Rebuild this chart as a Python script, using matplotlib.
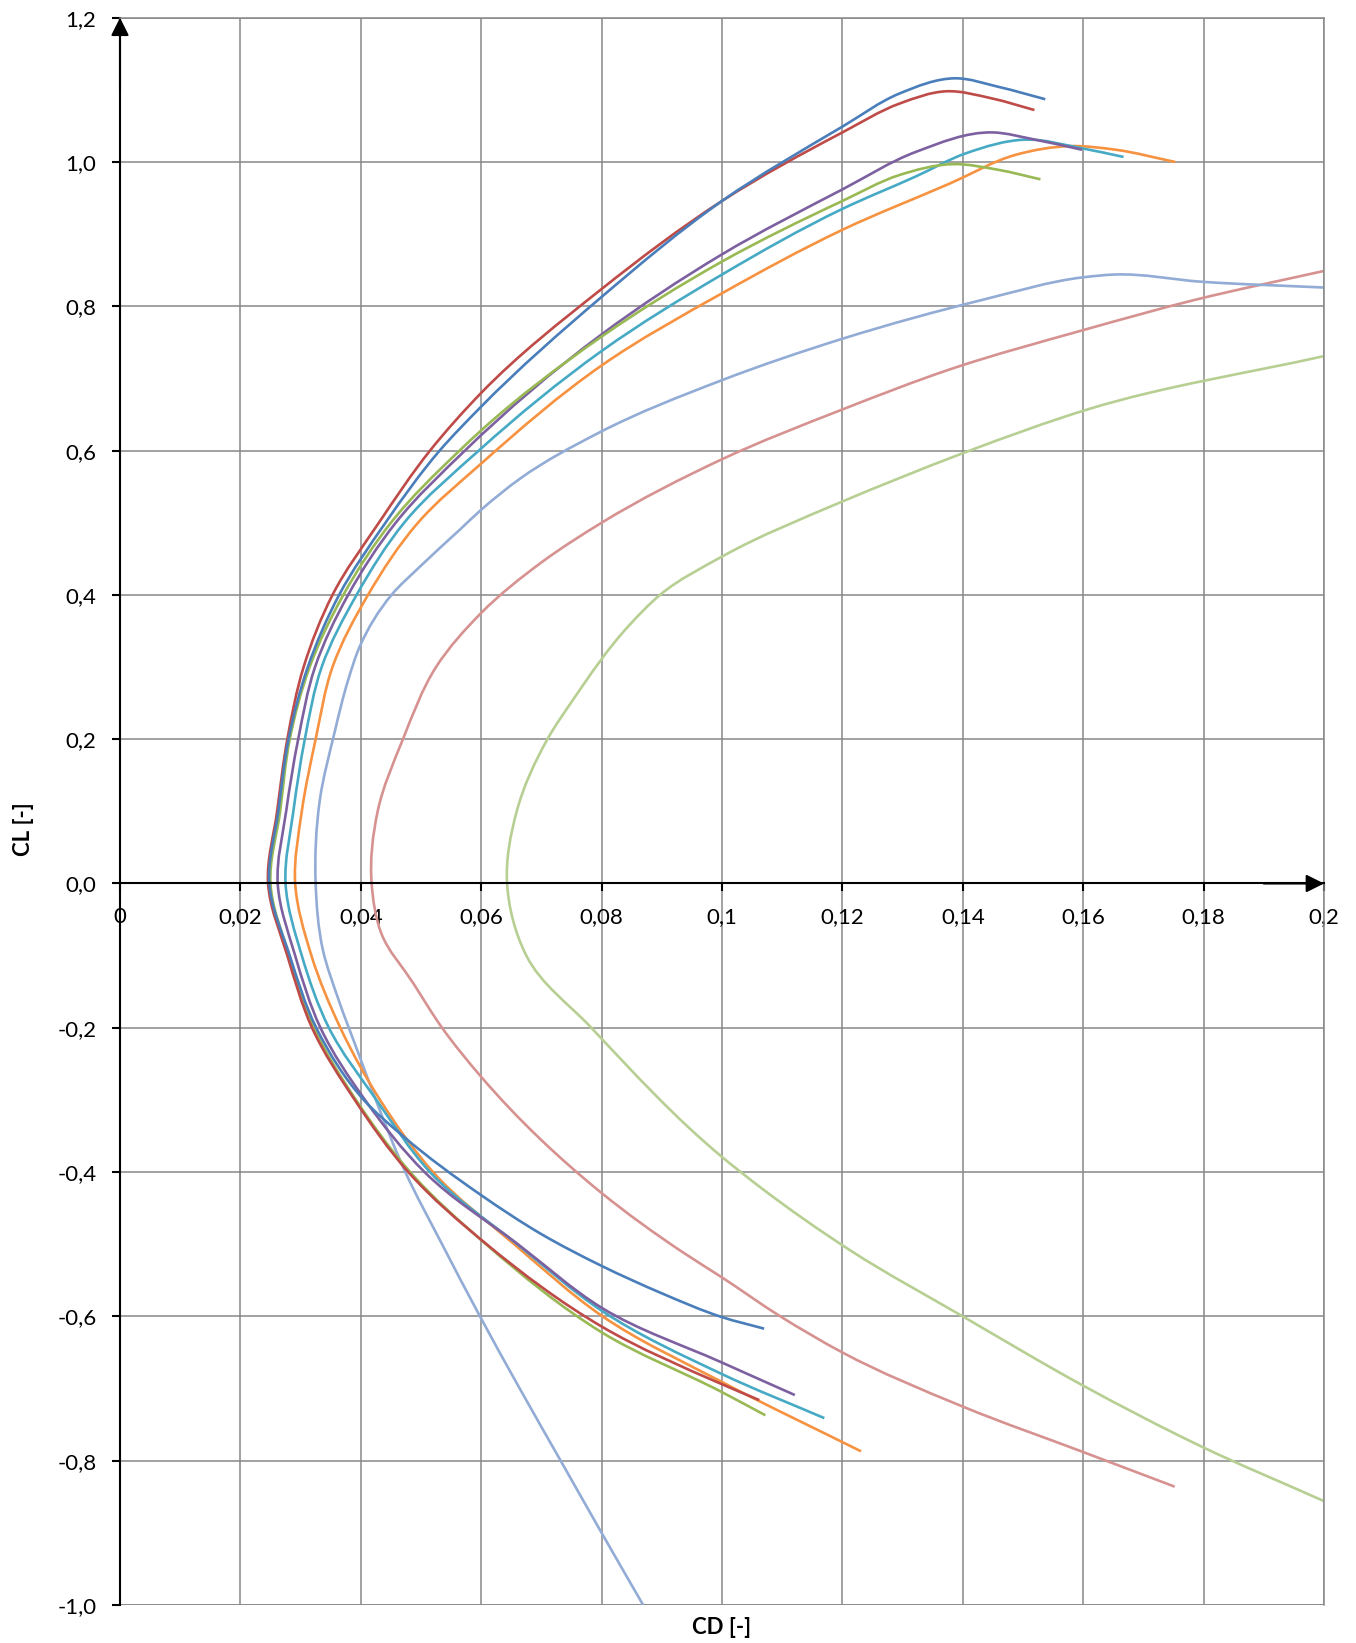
import matplotlib
matplotlib.use('Agg')
import matplotlib.pyplot as plt
import numpy as np
from matplotlib.path import Path
from matplotlib.patches import PathPatch

plt.rcParams['font.family'] = ['Lato', 'DejaVu Sans']

# drag polars: CD [-] and CL [-], lower end -> upper end
cd_blue = [0.1070, 0.1000, 0.0900, 0.0800, 0.0700, 0.0600, 0.0470, 0.0405, 0.0326, 0.0282,
           0.0248, 0.0263, 0.0280, 0.0312, 0.0364, 0.0441, 0.0531, 0.0600, 0.0800, 0.1000, 0.1200,
           0.1295, 0.1388, 0.1460, 0.1537]
cl_blue = [-0.617, -0.601, -0.568, -0.530, -0.486, -0.432, -0.350, -0.300, -0.200, -0.100,
           0.000, 0.100, 0.200, 0.300, 0.400, 0.500, 0.600, 0.661, 0.813, 0.946, 1.049,
           1.095, 1.116, 1.104, 1.087]

cd_red = [0.1062, 0.1000, 0.0800, 0.0609, 0.0479, 0.0390, 0.0319, 0.0278,
          0.0246, 0.0261, 0.0278, 0.0305, 0.0353, 0.0430, 0.0515, 0.0600, 0.0800, 0.1000, 0.1200,
          0.1295, 0.1372, 0.1449, 0.1519]
cl_red = [-0.716, -0.694, -0.614, -0.500, -0.400, -0.300, -0.200, -0.100,
          0.000, 0.100, 0.200, 0.300, 0.400, 0.500, 0.600, 0.680, 0.824, 0.946, 1.041,
          1.081, 1.098, 1.088, 1.072]

cd_green = [0.1072, 0.1000, 0.0800, 0.0608, 0.0482, 0.0392, 0.0322, 0.0281,
            0.0250, 0.0266, 0.0282, 0.0315, 0.0371, 0.0450, 0.0564, 0.0600, 0.0800, 0.1000, 0.1200,
            0.1295, 0.1383, 0.1460, 0.1529]
cl_green = [-0.737, -0.705, -0.622, -0.500, -0.400, -0.300, -0.200, -0.100,
            0.000, 0.100, 0.200, 0.300, 0.400, 0.500, 0.600, 0.628, 0.758, 0.862, 0.946,
            0.982, 0.997, 0.989, 0.976]

cd_purple = [0.1121, 0.1000, 0.0800, 0.0661, 0.0506, 0.0407, 0.0333, 0.0291,
             0.0262, 0.0276, 0.0296, 0.0324, 0.0379, 0.0458, 0.0573, 0.0800, 0.1000, 0.1200,
             0.1322, 0.1449, 0.1520, 0.1598]
cl_purple = [-0.709, -0.664, -0.588, -0.500, -0.400, -0.300, -0.200, -0.100,
             0.000, 0.100, 0.200, 0.300, 0.400, 0.500, 0.600, 0.761, 0.872, 0.962,
             1.014, 1.041, 1.031, 1.017]

cd_teal = [0.1170, 0.1000, 0.0800, 0.0660, 0.0515, 0.0426, 0.0347, 0.0302,
           0.0275, 0.0288, 0.0307, 0.0335, 0.0393, 0.0472, 0.0596, 0.0800, 0.1000, 0.1200,
           0.1322, 0.1405, 0.1504, 0.1598, 0.1667]
cl_teal = [-0.741, -0.680, -0.592, -0.500, -0.400, -0.300, -0.200, -0.100,
           0.000, 0.100, 0.200, 0.300, 0.400, 0.500, 0.600, 0.738, 0.844, 0.935,
           0.980, 1.012, 1.031, 1.019, 1.007]

cd_orange = [0.1231, 0.1000, 0.0800, 0.0655, 0.0520, 0.0432, 0.0366, 0.0318,
             0.0291, 0.0302, 0.0325, 0.0353, 0.0412, 0.0495, 0.0600, 0.0800, 0.1000, 0.1200,
             0.1378, 0.1488, 0.1577, 0.1654, 0.1753]
cl_orange = [-0.787, -0.691, -0.599, -0.500, -0.400, -0.300, -0.200, -0.100,
             0.000, 0.100, 0.200, 0.300, 0.400, 0.500, 0.582, 0.718, 0.818, 0.906,
             0.970, 1.010, 1.022, 1.017, 1.000]

cd_ltblue = [0.0869, 0.0800, 0.0732, 0.0664, 0.0598, 0.0535, 0.0474, 0.0425, 0.0395, 0.0363, 0.0337,
             0.0325, 0.0332, 0.0356, 0.0379, 0.0398, 0.0451, 0.0498, 0.0564, 0.0600, 0.0666,
             0.0796, 0.0998, 0.1200, 0.1433, 0.1598, 0.1651, 0.1797, 0.2000]
cl_ltblue = [-1.000, -0.900, -0.800, -0.700, -0.600, -0.500, -0.400, -0.300, -0.233, -0.161, -0.092,
             0.000, 0.116, 0.208, 0.282, 0.328, 0.400, 0.439, 0.490, 0.518, 0.562,
             0.625, 0.697, 0.755, 0.809, 0.840, 0.844, 0.834, 0.826]

cd_pink = [0.1752, 0.1600, 0.1400, 0.1200, 0.1097, 0.1000, 0.0931, 0.0800, 0.0600, 0.0535, 0.0487, 0.0434,
           0.0418, 0.0428, 0.0470, 0.0525, 0.0600, 0.0700, 0.0800,
           0.1000, 0.1200, 0.1380, 0.1600, 0.1786, 0.2000]
cl_pink = [-0.836, -0.788, -0.725, -0.650, -0.600, -0.546, -0.509, -0.429, -0.268, -0.200, -0.138, -0.069,
           0.000, 0.100, 0.200, 0.300, 0.375, 0.445, 0.500,
           0.588, 0.657, 0.713, 0.767, 0.809, 0.849]

cd_ltgreen = [0.2000, 0.1793, 0.1600, 0.1400, 0.1214, 0.1062, 0.1000, 0.0783, 0.0675,
              0.0643, 0.0659, 0.0710, 0.0752, 0.0846, 0.0897, 0.1002, 0.1193, 0.1295, 0.1402,
              0.1611, 0.2000]
cl_ltgreen = [-0.856, -0.779, -0.696, -0.600, -0.509, -0.420, -0.379, -0.200, -0.100,
              0.000, 0.100, 0.200, 0.254, 0.358, 0.400, 0.454, 0.527, 0.562, 0.597,
              0.658, 0.731]

series = [
    (cd_ltgreen, cl_ltgreen, '#B7CF92'),
    (cd_pink, cl_pink, '#D69290'),
    (cd_ltblue, cl_ltblue, '#92ACD6'),
    (cd_orange, cl_orange, '#F69240'),
    (cd_teal, cl_teal, '#46AAC5'),
    (cd_purple, cl_purple, '#7D60A0'),
    (cd_green, cl_green, '#98B954'),
    (cd_red, cl_red, '#BE4B48'),
    (cd_blue, cl_blue, '#4A7EBB'),
]

x_ticks = [0, 0.02, 0.04, 0.06, 0.08, 0.1, 0.12, 0.14, 0.16, 0.18, 0.2]
x_labels = ['0', '0,02', '0,04', '0,06', '0,08', '0,1', '0,12', '0,14', '0,16', '0,18', '0,2']
y_ticks = [-1.0, -0.8, -0.6, -0.4, -0.2, 0.0, 0.2, 0.4, 0.6, 0.8, 1.0, 1.2]
y_labels = ['-1,0', '-0,8', '-0,6', '-0,4', '-0,2', '0,0', '0,2', '0,4', '0,6', '0,8', '1,0', '1,2']

W, H = 1356, 1643
SX, SY = 6020.0, 721.5   # pixels per data unit, so the smoothing works in screen proportions


def smooth_path(xs, ys):
    # "smoothed line" like excel: cubic bezier through the points, bessel tangents
    p = np.column_stack([np.asarray(xs) * SX, np.asarray(ys) * SY])
    n = len(p)
    seg = np.diff(p, axis=0)
    d = np.hypot(seg[:, 0], seg[:, 1])
    tan = np.zeros_like(p)
    tan[0] = seg[0] / d[0]
    tan[-1] = seg[-1] / d[-1]
    for i in range(1, n - 1):
        t = (d[i] * seg[i - 1] / d[i - 1] + d[i - 1] * seg[i] / d[i]) / (d[i - 1] + d[i])
        tan[i] = t / np.hypot(*t)
    verts = [p[0]]
    codes = [Path.MOVETO]
    for i in range(n - 1):
        verts += [p[i] + tan[i] * d[i] / 3, p[i + 1] - tan[i + 1] * d[i] / 3, p[i + 1]]
        codes += [Path.CURVE4] * 3
    verts = np.array(verts) / [SX, SY]
    return Path(verts, codes)


fig = plt.figure(figsize=(W / 100, H / 100), dpi=100)
ax = fig.add_axes([120 / W, 1 - 1605 / H, 1204 / W, (1605 - 17.7) / H])

grey = '#878787'
for cd, cl, c in series:
    ax.add_patch(PathPatch(smooth_path(cd, cl), fill=False, edgecolor=c, lw=1.9,
                           capstyle='butt', joinstyle='round', zorder=2))

ax.set_xlim(0, 0.2)
ax.set_ylim(-1.0, 1.2)
ax.set_xticks(x_ticks)
ax.set_xticklabels(x_labels)
ax.set_yticks(y_ticks)
ax.set_yticklabels(y_labels)
ax.set_axisbelow(True)
ax.grid(True, color=grey, lw=1.1)

# excel style axes crossing at the origin
ax.spines['bottom'].set_position(('data', 0))
ax.spines['bottom'].set_color('black')
ax.spines['bottom'].set_linewidth(1.5)
ax.spines['left'].set_color('black')
ax.spines['left'].set_linewidth(1.5)
for s in ['top', 'right']:
    ax.spines[s].set_color(grey)
    ax.spines[s].set_linewidth(1.1)
ax.axhline(-1.0, color=grey, lw=1.1, zorder=1)

ax.tick_params(axis='both', direction='out', length=6, width=1.5, color='black',
               labelsize=16, pad=11)

arrow = dict(arrowstyle='-|>,head_length=0.4,head_width=0.2', color='black', lw=1.5,
             mutation_scale=27, shrinkA=0, shrinkB=0)
ax.annotate('', xy=(0.2, 0), xytext=(0.19, 0), arrowprops=arrow, annotation_clip=False, zorder=4)
ax.annotate('', xy=(0, 1.2), xytext=(0, 1.1), arrowprops=arrow, annotation_clip=False, zorder=4)

fig.text(722 / W, 1 - 1627 / H, 'CD [-]', ha='center', va='center', fontsize=16, fontweight='bold')
fig.text(23 / W, 1 - 829 / H, 'CL [-]', ha='center', va='center', rotation=90,
         fontsize=16, fontweight='bold')

fig.savefig('out.png', dpi=100)
